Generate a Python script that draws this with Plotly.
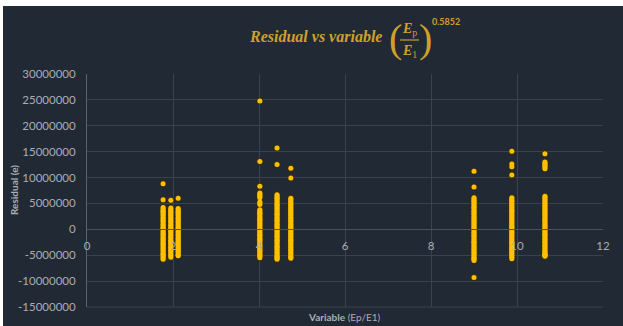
import plotly.graph_objects as go

# Variable (Ep/E1) value of each column of residuals
variable_values = [1.77, 1.95, 2.12, 4.02, 4.42, 4.74, 9.00, 9.88, 10.65]

# Residuals (e) for each variable value, in millions
res_177 = [8.8, 5.7,
           4.2, 4.0, 3.7, 3.5, 3.3, 3.0, 2.8, 2.6, 2.3, 2.1, 1.8, 1.6, 1.4, 1.1, 0.9,
           0.7, 0.4, 0.2, 0.0, -0.3, -0.5, -0.8, -1.0, -1.2, -1.5, -1.7, -1.9, -2.2,
           -2.4, -2.7, -2.9, -3.1, -3.4, -3.6, -3.8, -4.1, -4.3, -4.6, -4.8, -5.0,
           -5.3, -5.5, -5.8]
res_195 = [5.6,
           4.1, 3.9, 3.6, 3.4, 3.2, 2.9, 2.7, 2.4, 2.2, 2.0, 1.7, 1.5, 1.3, 1.0, 0.8,
           0.5, 0.3, 0.1, -0.2, -0.4, -0.6, -0.9, -1.1, -1.4, -1.6, -1.8, -2.1, -2.3,
           -2.5, -2.8, -3.0, -3.3, -3.5, -3.7, -4.0, -4.2, -4.4, -4.7, -4.9, -5.1,
           -5.4]
res_212 = [6.0,
           4.0, 3.8, 3.5, 3.3, 3.1, 2.8, 2.6, 2.3, 2.1, 1.9, 1.6, 1.4, 1.2, 0.9, 0.7,
           0.4, 0.2, 0.0, -0.3, -0.5, -0.7, -1.0, -1.2, -1.5, -1.7, -1.9, -2.2, -2.4,
           -2.6, -2.9, -3.1, -3.4, -3.6, -3.8, -4.1, -4.3, -4.5, -4.8, -5.0, -5.1]
res_402 = [24.8, 13.1, 8.3, 7.0, 6.8, 6.6, 6.3, 6.1, 5.3, 5.1, 4.8,
           3.8, 3.6, 3.3, 3.1, 2.9, 2.6, 2.4, 2.1, 1.9, 1.7, 1.4, 1.2, 1.0, 0.7, 0.5,
           0.2, 0.0, -0.2, -0.5, -0.7, -1.0, -1.2, -1.4, -1.7, -1.9, -2.1, -2.4, -2.6,
           -2.9, -3.1, -3.3, -3.6, -3.8, -4.0, -4.3, -4.5, -4.8, -5.0, -5.2, -5.5]
res_442 = [15.7, 12.5,
           6.7, 6.5, 6.2, 6.0, 5.8, 5.5, 5.3, 5.0, 4.8, 4.6, 4.3, 4.1, 3.9, 3.6, 3.4,
           3.1, 2.9, 2.7, 2.4, 2.2, 1.9, 1.7, 1.5, 1.2, 1.0, 0.8, 0.5, 0.3, 0.0, -0.2,
           -0.4, -0.7, -0.9, -1.2, -1.4, -1.6, -1.9, -2.1, -2.3, -2.6, -2.8, -3.1,
           -3.3, -3.5, -3.8, -4.0, -4.3, -4.5, -4.7, -5.0, -5.2, -5.4, -5.6, -5.8]
res_474 = [11.8, 9.9,
           6.0, 5.8, 5.5, 5.3, 5.1, 4.8, 4.6, 4.3, 4.1, 3.9, 3.6, 3.4, 3.2, 2.9, 2.7,
           2.4, 2.2, 2.0, 1.7, 1.5, 1.2, 1.0, 0.8, 0.5, 0.3, 0.1, -0.2, -0.4, -0.7,
           -0.9, -1.1, -1.4, -1.6, -1.9, -2.1, -2.3, -2.6, -2.8, -3.0, -3.3, -3.5,
           -3.8, -4.0, -4.2, -4.5, -4.7, -4.9, -5.2, -5.4, -5.6]
res_900 = [11.2, 8.2,
           6.1, 5.9, 5.6, 5.4, 5.2, 4.9, 4.7, 4.4, 4.2, 4.0, 3.7, 3.5, 3.2, 3.0, 2.8,
           2.5, 2.3, 2.0, 1.8, 1.6, 1.3, 1.1, 0.9, 0.6, 0.4, 0.1, -0.1, -0.3, -0.6,
           -0.8, -1.1, -1.3, -1.5, -1.8, -2.0, -2.3, -2.5, -2.7, -3.0, -3.2, -3.4,
           -3.7, -3.9, -4.2, -4.4, -4.6, -4.9, -5.1, -5.4, -5.6, -5.8, -6.0, -9.3]
res_988 = [15.1, 12.6, 12.1, 10.5,
           6.1, 5.9, 5.6, 5.4, 5.1, 4.9, 4.7, 4.4, 4.2, 3.9, 3.7, 3.5, 3.2, 3.0, 2.7,
           2.5, 2.3, 2.0, 1.8, 1.6, 1.3, 1.1, 0.8, 0.6, 0.4, 0.1, -0.1, -0.4, -0.6,
           -0.8, -1.1, -1.3, -1.5, -1.8, -2.0, -2.3, -2.5, -2.7, -3.0, -3.2, -3.5,
           -3.7, -3.9, -4.2, -4.4, -4.6, -4.9, -5.1, -5.4, -5.7]
res_1065 = [14.6, 13.0, 12.8, 12.6, 12.4, 12.2, 11.9, 11.7,
            6.4, 6.2, 5.9, 5.7, 5.5, 5.2, 5.0, 4.7, 4.5, 4.3, 4.0, 3.8, 3.6, 3.3,
            3.1, 2.8, 2.6, 2.4, 2.1, 1.9, 1.6, 1.4, 1.2, 0.9, 0.7, 0.5, 0.2, 0.0,
            -0.3, -0.5, -0.7, -1.0, -1.2, -1.4, -1.7, -1.9, -2.2, -2.4, -2.6, -2.9,
            -3.1, -3.3, -3.6, -3.8, -4.1, -4.3, -4.5, -4.7, -4.8, -4.9, -5.0, -5.1,
            -5.2]

residual_columns = [res_177, res_195, res_212, res_402, res_442, res_474,
                    res_900, res_988, res_1065]

y_ticks = [30000000, 25000000, 20000000, 15000000, 10000000, 5000000, 0,
           -5000000, -10000000, -15000000]
x_ticks = [0, 2, 4, 6, 8, 10, 12]

xs, ys = [], []
for xv, col in zip(variable_values, residual_columns):
    for r in col:
        xs.append(xv)
        ys.append(r * 1e6)

# figure geometry (pixels)
W_FIG, H_FIG = 623, 326
L, R, T, B = 87, 603, 74, 307
PW, PH = R - L, B - T

def fx(px):
    return (px - L) / PW

def fy(py):
    return (B - py) / PH

BG = "#212934"
GRID = "#3a4250"
TICK = "#a9adb4"
GOLD = "#cfa02a"

fig = go.Figure()
# dark rim under each marker, then the gold marker face on top
fig.add_trace(go.Scatter(
    x=xs, y=ys, mode="markers",
    marker=dict(size=6.5, color="#3d3200", line=dict(width=0)),
    showlegend=False, hoverinfo="skip",
))
fig.add_trace(go.Scatter(
    x=xs, y=ys, mode="markers",
    marker=dict(size=5, color="#FFC000", line=dict(width=0)),
    showlegend=False, hoverinfo="x+y",
))

fig.update_layout(
    width=W_FIG, height=H_FIG,
    margin=dict(l=L, r=W_FIG - R, t=T, b=H_FIG - B, pad=0),
    paper_bgcolor="white",
    plot_bgcolor=BG,
    font=dict(family="Lato, Open Sans, sans-serif", color=TICK, size=11.5),
    xaxis=dict(
        range=[0, 12], tickvals=x_ticks, ticktext=[str(v) for v in x_ticks],
        showgrid=True, gridcolor=GRID, gridwidth=1,
        zeroline=False, showline=True, linecolor="#4a5260", linewidth=1,
        anchor="free", position=15 / 45, side="bottom",
        ticks="outside", ticklen=4, tickcolor="rgba(0,0,0,0)",
        ticklabelstandoff=2,
    ),
    yaxis=dict(
        range=[-15000000, 30000000], tickvals=y_ticks,
        ticktext=[str(v) for v in y_ticks],
        showgrid=True, gridcolor=GRID, gridwidth=1,
        zeroline=False, showline=True, linecolor="#5a6270", linewidth=1,
        ticks="outside", ticklen=6, tickcolor="rgba(0,0,0,0)",
        ticklabelstandoff=2,
    ),
)

# dark chart panel with a thin white edge at top and left
fig.add_shape(type="rect", xref="paper", yref="paper", layer="below",
              x0=fx(3), x1=fx(W_FIG + 2), y0=fy(6), y1=fy(H_FIG + 2),
              fillcolor=BG, line=dict(width=0))
# bottom grid border
fig.add_shape(type="line", xref="paper", yref="paper", x0=0, x1=1, y0=0, y1=0,
              line=dict(color=GRID, width=1))

ann = []
# axis titles
ann.append(dict(text="<b>Residual (e)</b>", x=fx(14), y=fy(190), textangle=-90,
                font=dict(size=10, color=TICK, family="Lato, Open Sans, sans-serif")))
ann.append(dict(text="<b>Variable</b> (Ep/E1)", x=fx(344), y=fy(317),
                font=dict(size=10, color=TICK, family="Lato, Open Sans, sans-serif")))
# chart title with the fraction (Ep/E1)^0.5852
ann.append(dict(text="<b><i>Residual vs variable</i></b>", x=fx(315), y=fy(36),
                font=dict(size=16, color=GOLD, family="Liberation Serif, serif")))
ann.append(dict(text="(", x=fx(395), y=fy(38),
                font=dict(size=40, color=GOLD, family="Liberation Serif, serif")))
ann.append(dict(text=")", x=fx(425), y=fy(38),
                font=dict(size=40, color=GOLD, family="Liberation Serif, serif")))
ann.append(dict(text="<b><i>E</i></b><sub>p</sub>", x=fx(409), y=fy(30),
                font=dict(size=14, color=GOLD, family="Liberation Serif, serif")))
ann.append(dict(text="<b><i>E</i></b><sub>1</sub>", x=fx(409), y=fy(51),
                font=dict(size=14, color=GOLD, family="Liberation Serif, serif")))
ann.append(dict(text="<b>0.5852</b>", x=fx(446), y=fy(21),
                font=dict(size=9, color=GOLD, family="Lato, Open Sans, sans-serif")))
for a in ann:
    a.update(xref="paper", yref="paper", showarrow=False,
             xanchor="center", yanchor="middle")
fig.update_layout(annotations=ann)

# fraction bar
fig.add_shape(type="line", xref="paper", yref="paper",
              x0=fx(400), x1=fx(419), y0=fy(40), y1=fy(40),
              line=dict(color=GOLD, width=1.2))

fig.write_html("out.html")
